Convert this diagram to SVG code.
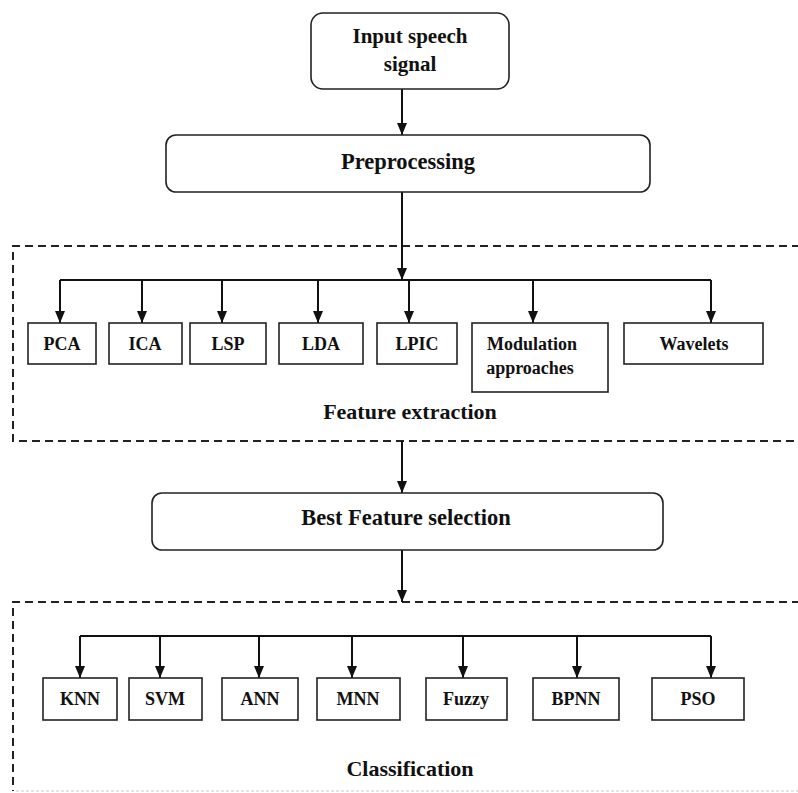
<svg xmlns="http://www.w3.org/2000/svg" width="798" height="793" viewBox="0 0 798 793">
  <style>
    text { font-family: "Liberation Serif", "Times New Roman", serif; font-weight: bold; fill: #111; text-anchor: middle; }
    .lbl { font-size: 18px; }
    .big { font-size: 21px; }
    .stage { font-size: 22.5px; }
    .title { font-size: 22px; }
    .box { fill: #fff; stroke: #222; stroke-width: 1.6; }
    .frame { fill: none; stroke: #222; stroke-width: 2; stroke-dasharray: 8 5; }
    .wire { fill: none; stroke: #111; stroke-width: 2; }
    .arrow { fill: none; stroke: #111; stroke-width: 2; marker-end: url(#head); }
  </style>
  <defs>
    <!-- filled triangular arrowhead, tip at the end of the path -->
    <marker id="head" viewBox="0 0 12 10" refX="12" refY="5" markerWidth="12" markerHeight="10" markerUnits="userSpaceOnUse" orient="auto">
      <path d="M0,0 L12,5 L0,10 Z" fill="#111"/>
    </marker>
  </defs>
  <rect width="798" height="793" fill="#fff"/>

  <!-- stage frames -->
  <g id="feature-extraction-frame">
    <path class="frame" d="M800,246 H13 V441 H800"/>
    <text class="title" x="410" y="419">Feature extraction</text>
  </g>
  <g id="classification-frame">
    <path class="frame" d="M800,602 H13 V791"/>
    <path d="M16,791 H798" stroke="#ccc" stroke-width="1" stroke-dasharray="3 2"/>
    <text class="title" x="410" y="776">Classification</text>
  </g>

  <!-- connectors -->
  <g id="connectors">
    <path class="arrow" d="M402,89 V135"/>
    <path class="arrow" d="M402,192 V280"/>
    <path class="wire" d="M60,280 H711"/>
    <path class="arrow" d="M60,280 V323"/>
    <path class="arrow" d="M142,280 V323"/>
    <path class="arrow" d="M222,280 V323"/>
    <path class="arrow" d="M318,280 V323"/>
    <path class="arrow" d="M409,280 V323"/>
    <path class="arrow" d="M533,280 V323"/>
    <path class="arrow" d="M711,280 V323"/>
    <path class="arrow" d="M402,441 V493"/>
    <path class="arrow" d="M402,550 V602"/>
    <path class="wire" d="M80,636 H711"/>
    <path class="arrow" d="M80,636 V678"/>
    <path class="arrow" d="M160,636 V678"/>
    <path class="arrow" d="M259,636 V678"/>
    <path class="arrow" d="M352,636 V678"/>
    <path class="arrow" d="M463,636 V678"/>
    <path class="arrow" d="M577,636 V678"/>
    <path class="arrow" d="M711,636 V678"/>
  </g>

  <g id="input">
    <rect class="box" x="311" y="13" width="198" height="76" rx="12"/>
    <text class="big" x="410" y="43">Input speech</text>
    <text class="big" x="410" y="71">signal</text>
  </g>
  <g id="preprocessing">
    <rect class="box" x="166" y="135" width="484" height="57" rx="10"/>
    <text class="stage" x="408" y="169">Preprocessing</text>
  </g>

  <g id="pca"><rect class="box" x="28" y="323" width="68" height="41"/><text class="lbl" x="62" y="350">PCA</text></g>
  <g id="ica"><rect class="box" x="109" y="323" width="73" height="41"/><text class="lbl" x="145" y="350">ICA</text></g>
  <g id="lsp"><rect class="box" x="190" y="323" width="76" height="41"/><text class="lbl" x="228" y="350">LSP</text></g>
  <g id="lda"><rect class="box" x="279" y="323" width="84" height="41"/><text class="lbl" x="321" y="350">LDA</text></g>
  <g id="lpic"><rect class="box" x="377" y="323" width="80" height="41"/><text class="lbl" x="417" y="350">LPIC</text></g>
  <g id="modulation">
    <rect class="box" x="472" y="323" width="136" height="69"/>
    <text class="lbl" x="532" y="350">Modulation</text>
    <text class="lbl" x="530" y="374">approaches</text>
  </g>
  <g id="wavelets"><rect class="box" x="624" y="323" width="139" height="41"/><text class="lbl" x="694" y="350">Wavelets</text></g>

  <g id="best-feature-selection">
    <rect class="box" x="152" y="493" width="511" height="57" rx="10"/>
    <text class="stage" x="406" y="525">Best Feature selection</text>
  </g>

  <g id="knn"><rect class="box" x="43" y="678" width="74" height="42"/><text class="lbl" x="80" y="705">KNN</text></g>
  <g id="svm"><rect class="box" x="129" y="678" width="73" height="42"/><text class="lbl" x="165" y="705">SVM</text></g>
  <g id="ann"><rect class="box" x="222" y="678" width="76" height="42"/><text class="lbl" x="260" y="705">ANN</text></g>
  <g id="mnn"><rect class="box" x="317" y="678" width="83" height="42"/><text class="lbl" x="358" y="705">MNN</text></g>
  <g id="fuzzy"><rect class="box" x="426" y="678" width="81" height="42"/><text class="lbl" x="466" y="705">Fuzzy</text></g>
  <g id="bpnn"><rect class="box" x="533" y="678" width="86" height="42"/><text class="lbl" x="576" y="705">BPNN</text></g>
  <g id="pso"><rect class="box" x="652" y="678" width="92" height="42"/><text class="lbl" x="698" y="705">PSO</text></g>
</svg>
